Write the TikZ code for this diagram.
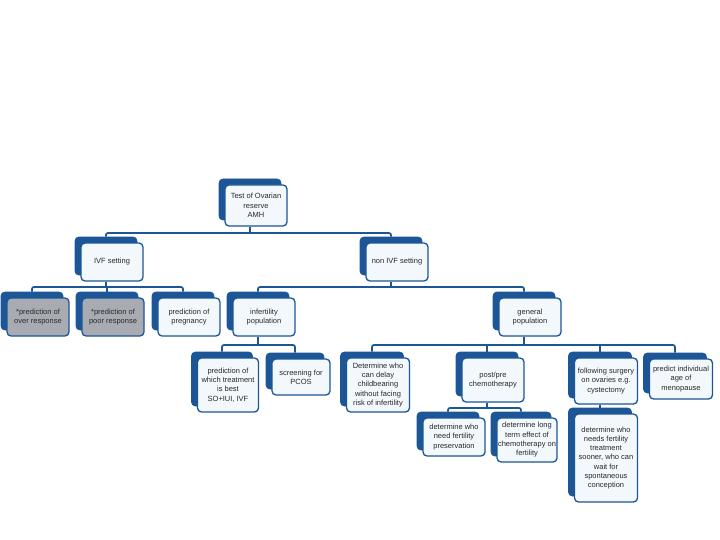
\documentclass[tikz,border=0pt]{standalone}
\usepackage{fontspec}
\setmainfont{Liberation Sans}
\definecolor{boxblue}{RGB}{28,86,150}
\definecolor{boxfill}{RGB}{243,248,253}
\definecolor{boxgray}{RGB}{168,172,178}
\definecolor{txtgray}{RGB}{40,40,40}
\tikzset{
  sz/.style n args={2}{minimum width=#1pt, minimum height=#2pt},
  backbox/.style={draw=boxblue, fill=boxblue, rounded corners=4pt, line width=0.8pt, inner sep=0pt},
  frontbox/.style={draw=boxblue, fill=boxfill, rounded corners=4pt, line width=1.3pt, inner sep=0.5pt,
    align=center, text=txtgray, font=\fontsize{7.5}{9.3}\selectfont},
  graybox/.style={frontbox, fill=boxgray},
  conn/.style={draw=boxblue, line width=1.7pt, rounded corners=2pt},
}
\begin{document}
\begin{tikzpicture}[x=1pt, y=-1pt]
            \useasboundingbox (0,0) rectangle (720,540);

            % Box root
            \node [backbox, sz={62}{41}] (rootb) at (250,199.5) {};
            \node [frontbox, sz={62}{41}] (root) at ([shift={(6,6)}]rootb.center) {Test of Ovarian\\reserve\\AMH};

            % Box IVF setting
            \node [backbox, sz={62}{38}] (ivfb) at (106,256) {};
            \node [frontbox, sz={62}{38}] (ivf) at ([shift={(6,6)}]ivfb.center) {IVF setting};

            % Box non IVF setting
            \node [backbox, sz={62}{38}] (nonivfb) at (391,256) {};
            \node [frontbox, sz={62}{38}] (nonivf) at ([shift={(6,6)}]nonivfb.center) {non IVF setting};

            % Boxes under IVF setting
            \node [backbox, sz={62}{38}] (overb) at (32,311) {};
            \node [graybox, sz={62}{38}] (over) at ([shift={(6,6)}]overb.center) {*prediction of\\over response};
            \node [backbox, sz={62}{38}] (poorb) at (107,311) {};
            \node [graybox, sz={62}{38}] (poor) at ([shift={(6,6)}]poorb.center) {*prediction of\\poor response};
            \node [backbox, sz={62}{38}] (pregb) at (183,311) {};
            \node [frontbox, sz={62}{38}] (preg) at ([shift={(6,6)}]pregb.center) {prediction of\\pregnancy};

            % Boxes under non IVF setting
            \node [backbox, sz={62}{38}] (infertb) at (258,311) {};
            \node [frontbox, sz={62}{38}] (infert) at ([shift={(6,6)}]infertb.center) {infertility\\population};
            \node [backbox, sz={62}{38}] (genb) at (524,311) {};
            \node [frontbox, sz={62}{38}] (gen) at ([shift={(6,6)}]genb.center) {general\\population};

            % Boxes under infertility population
            \node [backbox, sz={61}{54}] (treatb) at (222,379) {};
            \node [frontbox, sz={61}{54}] (treat) at ([shift={(6,6)}]treatb.center) {prediction of\\which treatment\\is best\\SO+IUI, IVF};
            \node [backbox, sz={58}{36}] (pcosb) at (295,371) {};
            \node [frontbox, sz={58}{36}] (pcos) at ([shift={(6,6)}]pcosb.center) {screening for\\PCOS};

            % Boxes under general population
            \node [backbox, sz={63}{54}] (delayb) at (372,379) {};
            \node [frontbox, sz={63}{54}] (delay) at ([shift={(6,6)}]delayb.center) {Determine who\\can delay\\childbearing\\without facing\\risk of infertility};
            \node [backbox, sz={62}{44}] (chemob) at (487,374) {};
            \node [frontbox, sz={62}{44}] (chemo) at ([shift={(6,6)}]chemob.center) {post/pre\\chemotherapy};
            \node [backbox, sz={63}{46}] (surgb) at (600,375) {};
            \node [frontbox, sz={63}{46}] (surg) at ([shift={(6,6)}]surgb.center) {following surgery\\on ovaries e.g.\\cystectomy};
            \node [backbox, sz={63}{40}] (menob) at (675,373) {};
            \node [frontbox, sz={63}{40}] (meno) at ([shift={(6,6)}]menob.center) {predict individual\\age of\\menopause};

            % Boxes under post/pre chemotherapy
            \node [backbox, sz={62}{38}] (presb) at (448,431) {};
            \node [frontbox, sz={62}{38}] (pres) at ([shift={(6,6)}]presb.center) {determine who\\need fertility\\preservation};
            \node [backbox, sz={60}{44}] (longb) at (521,434) {};
            \node [frontbox, sz={60}{44}] (long) at ([shift={(6,6)}]longb.center) {determine long\\term effect of\\chemotherapy on\\fertility};

            % Box under following surgery
            \node [backbox, sz={63}{88}] (soonb) at (600,452) {};
            \node [frontbox, sz={63}{88}] (soon) at ([shift={(6,6)}]soonb.center) {determine who\\needs fertility\\treatment\\sooner, who can\\wait for\\spontaneous\\conception};

            % Bus levels
            \coordinate (busroot) at (0,233);
            \coordinate (busivf) at (0,287);
            \coordinate (busnon) at (0,287);
            \coordinate (businf) at (0,345);
            \coordinate (busgen) at (0,345);
            \coordinate (buschemo) at (0,408);

            % Connectors from root
            \draw [conn] (rootb.center |- root.south) -- (rootb.center |- busroot);
            \draw [conn] (ivfb.north) -- (ivfb.north |- busroot) -- (nonivfb.north |- busroot) -- (nonivfb.north);

            % Connectors from IVF setting
            \draw [conn] (ivfb.center |- ivf.south) -- (ivfb.center |- busivf);
            \draw [conn] (overb.north) -- (overb.north |- busivf) -- (pregb.north |- busivf) -- (pregb.north);
            \draw [conn] (poorb.north) -- (poorb.north |- busivf);

            % Connectors from non IVF setting
            \draw [conn] (nonivfb.center |- nonivf.south) -- (nonivfb.center |- busnon);
            \draw [conn] (infertb.north) -- (infertb.north |- busnon) -- (genb.north |- busnon) -- (genb.north);

            % Connectors from infertility population
            \draw [conn] (infertb.center |- infert.south) -- (infertb.center |- businf);
            \draw [conn] (treatb.north) -- (treatb.north |- businf) -- (pcosb.north |- businf) -- (pcosb.north);

            % Connectors from general population
            \draw [conn] (genb.center |- gen.south) -- (genb.center |- busgen);
            \draw [conn] (delayb.north) -- (delayb.north |- busgen) -- (menob.north |- busgen) -- (menob.north);
            \draw [conn] (chemob.north) -- (chemob.north |- busgen);
            \draw [conn] (surgb.north) -- (surgb.north |- busgen);

            % Connectors from post/pre chemotherapy
            \draw [conn] (chemob.center |- chemo.south) -- (chemob.center |- buschemo);
            \draw [conn] (presb.north) -- (presb.north |- buschemo) -- (longb.north |- buschemo) -- (longb.north);

            % Connector from following surgery
            \draw [conn] (surgb.center |- surg.south) -- (soonb.north);

\end{tikzpicture}
\end{document}
